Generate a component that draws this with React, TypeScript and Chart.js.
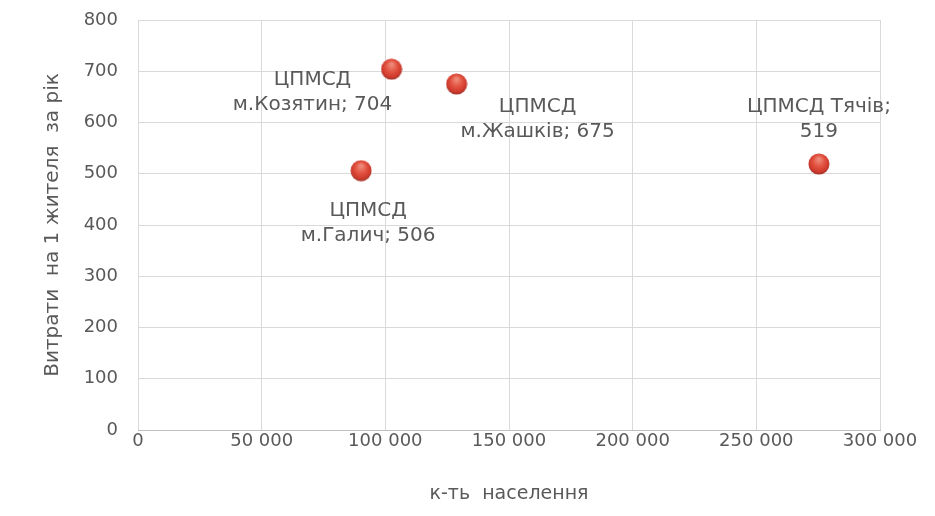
import { useEffect, useRef } from "react";
import { Chart, registerables } from "chart.js";

Chart.register(...registerables);

// population, cost per inhabitant per year
const clinics = ["м.Козятин", "м.Жашків", "м.Галич", "Тячів"];
const population = [102500, 128800, 90200, 275300];
const costPerPerson = [704, 675, 506, 519];
// label lines and where they sit around each point
const labelLines = [
  ["ЦПМСД", "м.Козятин; 704"],
  ["ЦПМСД", "м.Жашків; 675"],
  ["ЦПМСД", "м.Галич; 506"],
  ["ЦПМСД Тячів;", "519"],
];
const labelOffsets = [
  [-79, 11],
  [81, 23],
  [7, 40],
  [0, -57],
];

const textColor = "#595959";
const font = "'DejaVu Sans', sans-serif";

const makeBall = () => {
  const c = document.createElement("canvas");
  c.width = 22;
  c.height = 22;
  const ctx = c.getContext("2d")!;
  const g = ctx.createRadialGradient(11, 6, 1, 11, 10, 11);
  g.addColorStop(0, "#ee8a7a");
  g.addColorStop(0.5, "#e2513f");
  g.addColorStop(0.85, "#cf3a2d");
  g.addColorStop(1, "#a5342a");
  ctx.fillStyle = g;
  ctx.beginPath();
  ctx.arc(11, 11, 10.5, 0, Math.PI * 2);
  ctx.fill();
  return c;
};

const pointLabels = {
  id: "pointLabels",
  afterDatasetsDraw(chart: Chart) {
    const ctx = chart.ctx;
    const meta = chart.getDatasetMeta(0);
    ctx.save();
    ctx.fillStyle = textColor;
    ctx.font = `20px ${font}`;
    ctx.textAlign = "center";
    ctx.textBaseline = "middle";
    meta.data.forEach((pt, i) => {
      const [dx, dy] = labelOffsets[i];
      labelLines[i].forEach((line, j) => {
        ctx.fillText(line, pt.x + dx, pt.y + dy + j * 25);
      });
    });
    ctx.restore();
  },
};

const fmt = (v: number) => String(v).replace(/\B(?=(\d{3})+(?!\d))/g, " ");

const App = () => {
  const chartRef = useRef<HTMLCanvasElement>(null);

  useEffect(() => {
    if (!chartRef.current) return;
    document.body.style.margin = "0";

    const chart = new Chart(chartRef.current, {
      type: "scatter",
      data: {
        labels: clinics,
        datasets: [
          {
            label: "Витрати",
            data: population.map((x, i) => ({ x, y: costPerPerson[i] })),
            pointStyle: makeBall(),
            pointRadius: 11,
          },
        ],
      },
      plugins: [pointLabels],
      options: {
        responsive: true,
        maintainAspectRatio: false,
        animation: false,
        layout: { padding: { top: 20, right: 55, bottom: 10, left: 37 } },
        plugins: {
          legend: { display: false },
          tooltip: { enabled: false },
        },
        scales: {
          x: {
            min: 0,
            max: 300000,
            afterFit: (s) => {
              s.height = 76;
            },
            ticks: {
              stepSize: 50000,
              color: textColor,
              font: { family: font, size: 18 },
              padding: 1,
              callback: (v) => fmt(Number(v)),
            },
            grid: { color: "#d9d9d9", drawTicks: false },
            border: { color: "#bfbfbf" },
            title: {
              display: true,
              text: "к-ть  населення",
              color: textColor,
              font: { family: font, size: 19 },
              padding: { top: 15, bottom: 1 },
            },
          },
          y: {
            min: 0,
            max: 800,
            afterFit: (s) => {
              s.width = 101;
            },
            ticks: {
              stepSize: 100,
              color: textColor,
              font: { family: font, size: 18 },
              padding: 4,
            },
            grid: {
              color: "#d9d9d9",
              drawTicks: true,
              tickLength: 16,
              tickColor: "rgba(0,0,0,0)",
            },
            border: { display: false },
            title: {
              display: true,
              text: "Витрати  на 1 жителя  за рік",
              color: textColor,
              font: { family: font, size: 20 },
              padding: { bottom: 0 },
            },
          },
        },
      },
    });

    return () => {
      chart.destroy();
    };
  }, []);

  return (
    <div style={{ width: "935px", height: "516px", position: "relative" }}>
      <canvas ref={chartRef} />
    </div>
  );
};

export default App;
